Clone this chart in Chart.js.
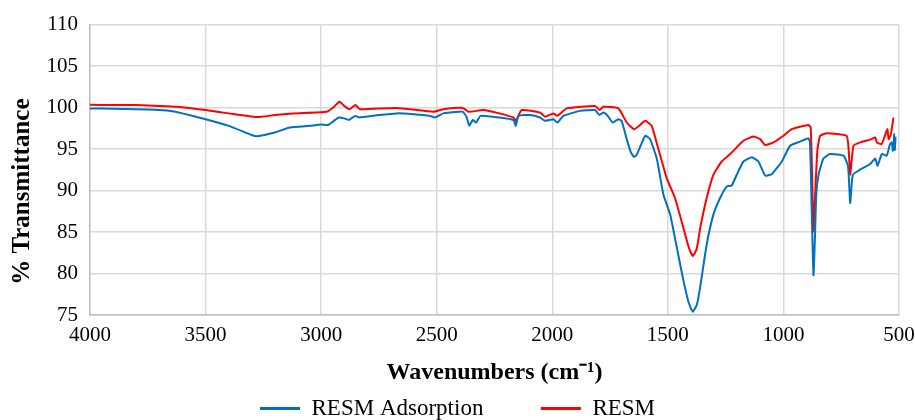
<!DOCTYPE html>
<html>
<head>
<meta charset="utf-8">
<script src="https://cdn.jsdelivr.net/npm/chart.js@4.4.0/dist/chart.umd.min.js"></script>
<style>
  body { margin: 0; background: #fff; }
  #wrap { width: 915px; height: 420px; }
</style>
</head>
<body>
<div id="wrap"><canvas id="myChart"></canvas></div>
<script>
// FTIR spectra, wavenumber (cm-1) vs % transmittance
let adsWavenumber = [4000, 3900, 3800, 3700, 3650, 3600, 3500, 3400, 3300, 3279, 3200, 3135, 3050, 3000, 2970, 2945, 2923, 2900, 2880, 2853, 2835, 2750, 2673, 2600, 2529, 2507, 2472, 2400, 2387, 2370, 2359, 2344, 2330, 2310, 2229, 2168, 2158, 2146, 2096, 2053, 2031, 1995, 1978, 1952, 1880, 1815, 1796, 1779, 1760, 1739, 1714, 1700, 1678, 1660, 1646, 1635, 1615, 1598, 1577, 1548, 1519, 1490, 1461, 1433, 1410, 1392, 1375, 1360, 1332, 1303, 1274, 1245, 1224, 1202, 1173, 1137, 1108, 1079, 1050, 1007, 971, 928, 892, 885, 878, 870, 864, 858, 848, 827, 798, 740, 721, 716, 711, 700, 675, 625, 603, 593, 574, 553, 540, 531, 527, 524, 521, 518, 515];
let adsTransmittance = [99.9, 99.85, 99.8, 99.7, 99.6, 99.3, 98.6, 97.8, 96.7, 96.55, 97.0, 97.6, 97.8, 97.95, 97.9, 98.4, 98.8, 98.7, 98.5, 99.0, 98.8, 99.1, 99.3, 99.2, 99.0, 98.8, 99.3, 99.5, 99.5, 98.8, 97.8, 98.5, 98.2, 99.0, 98.8, 98.5, 97.8, 99.0, 99.1, 98.8, 98.4, 98.6, 98.2, 99.0, 99.6, 99.7, 99.1, 99.4, 99.0, 98.2, 98.6, 98.4, 96.2, 94.6, 94.05, 94.3, 95.6, 96.6, 96.2, 93.85, 89.5, 87.1, 83.1, 79.2, 76.5, 75.4, 76.2, 78.4, 83.5, 87.1, 89.1, 90.5, 90.6, 91.9, 93.5, 94.0, 93.5, 91.8, 92.0, 93.5, 95.4, 95.9, 96.3, 95.8, 88, 79.8, 84, 89.5, 91.9, 93.85, 94.4, 94.2, 93.0, 91, 88.5, 91.9, 92.4, 93.2, 93.85, 93.0, 94.4, 94.2, 95.5, 95.8, 94.8, 95.0, 96.8, 94.9, 96.5];

let resmWavenumber = [4000, 3900, 3800, 3700, 3625, 3500, 3400, 3279, 3200, 3121, 2976, 2948, 2921, 2900, 2878, 2852, 2832, 2673, 2514, 2471, 2387, 2363, 2298, 2229, 2168, 2158, 2132, 2053, 2031, 1995, 1978, 1937, 1815, 1796, 1779, 1714, 1678, 1646, 1620, 1598, 1570, 1541, 1505, 1469, 1433, 1410, 1392, 1375, 1360, 1332, 1303, 1267, 1230, 1173, 1130, 1101, 1079, 1043, 1000, 964, 892, 882, 876, 870, 862, 853, 841, 812, 727, 718, 711, 697, 668, 618, 603, 596, 575, 561, 550, 545, 535, 524];
let resmTransmittance = [100.35, 100.3, 100.3, 100.2, 100.1, 99.7, 99.3, 98.85, 99.1, 99.3, 99.5, 100.0, 100.7, 100.2, 99.8, 100.3, 99.8, 99.96, 99.5, 99.8, 99.96, 99.5, 99.7, 99.3, 98.8, 98.4, 99.7, 99.4, 98.9, 99.3, 99.0, 99.9, 100.2, 99.7, 100.1, 99.9, 98.2, 97.4, 97.9, 98.4, 97.8, 95.0, 91.5, 89.1, 85.5, 83.2, 82.1, 83.0, 85.5, 89.1, 91.9, 93.5, 94.4, 96.0, 96.5, 96.2, 95.5, 95.8, 96.6, 97.4, 97.9, 97.6, 92, 85.1, 90, 94.9, 96.6, 96.9, 96.6, 95, 91.9, 95.4, 95.8, 96.2, 96.4, 95.8, 95.6, 96.6, 97.4, 96.2, 96.8, 98.8];

let seriesLabels = ['RESM Adsorption', 'RESM'];
let seriesColors = ['#0070C0', '#FF0000'];

function to_points(xs, ys) {
  let pts = [];
  for (let i = 0; i < xs.length; i++) {
    pts.push({ x: xs[i], y: ys[i] });
  }
  return pts;
}

let serif = "'Liberation Serif', 'Times New Roman', serif";

// legend box reserves 10px below the labels; push it down into that gap
let legendDown = {
  id: 'legendDown',
  afterLayout: function(chart) {
    chart.legend.top += 10;
    chart.legend.bottom += 10;
  }
};

var config = {
  type: 'line',
  data: {
    datasets: [{
      label: seriesLabels[0],
      data: to_points(adsWavenumber, adsTransmittance),
      borderColor: seriesColors[0],
      backgroundColor: seriesColors[0],
      borderWidth: 2,
      pointRadius: 0,
      tension: 0.15
    }, {
      label: seriesLabels[1],
      data: to_points(resmWavenumber, resmTransmittance),
      borderColor: seriesColors[1],
      backgroundColor: seriesColors[1],
      borderWidth: 2,
      pointRadius: 0,
      tension: 0.15
    }]
  },
  plugins: [legendDown],
  options: {
    responsive: true,
    maintainAspectRatio: false,
    animation: false,
    layout: { padding: { top: 9, right: 0, bottom: 0, left: 0 } },
    plugins: {
      tooltip: { enabled: false },
      legend: {
        position: 'bottom',
        labels: {
          boxWidth: 40,
          boxHeight: 0,
          padding: 0,
          color: '#000',
          font: { family: serif, size: 23 },
          generateLabels: function(chart) {
            return chart.data.datasets.map(function(ds, i) {
              // trailing spaces keep the two entries well apart
              let txt = i == 0 ? ds.label + '          ' : ds.label;
              return {
                text: txt,
                strokeStyle: ds.borderColor,
                fillStyle: ds.borderColor,
                lineWidth: 3,
                datasetIndex: i
              };
            });
          }
        }
      }
    },
    scales: {
      x: {
        type: 'linear',
        reverse: true,
        min: 500,
        max: 4000,
        afterFit: function(scale) {
          scale.height = 72;
          scale.paddingRight = 16;
        },
        ticks: {
          stepSize: 500,
          padding: 8,
          maxRotation: 0,
          color: '#000',
          font: { family: serif, size: 21 },
          callback: function(v) { return String(v); }
        },
        grid: { color: '#d9d9d9', lineWidth: 1.5, drawTicks: false },
        border: { color: '#bfbfbf', width: 1.5 },
        title: {
          display: true,
          text: 'Wavenumbers (cm\u207B\u00B9)',
          color: '#000',
          padding: { top: 0, bottom: 2 },
          font: { family: serif, size: 24, weight: 'bold', lineHeight: 1 }
        }
      },
      y: {
        min: 75,
        max: 110,
        afterFit: function(scale) { scale.width = 90; },
        ticks: {
          stepSize: 5,
          padding: 12,
          color: '#000',
          font: { family: serif, size: 21 },
          callback: function(v) { return String(v); }
        },
        grid: { color: '#d9d9d9', lineWidth: 1.5, drawTicks: false },
        border: { color: '#bfbfbf', width: 1.5 },
        title: {
          display: true,
          // padded at the end so the title sits a little low on the axis
          text: '% Transmittance       ',
          color: '#000',
          padding: { top: 10, bottom: 0 },
          font: { family: serif, size: 25, weight: 'bold', lineHeight: 1 }
        }
      }
    }
  }
};

window.onload = function() {
  var ctx = document.getElementById('myChart').getContext('2d');
  window.ftirChart = new Chart(ctx, config);
};
</script>
</body>
</html>
